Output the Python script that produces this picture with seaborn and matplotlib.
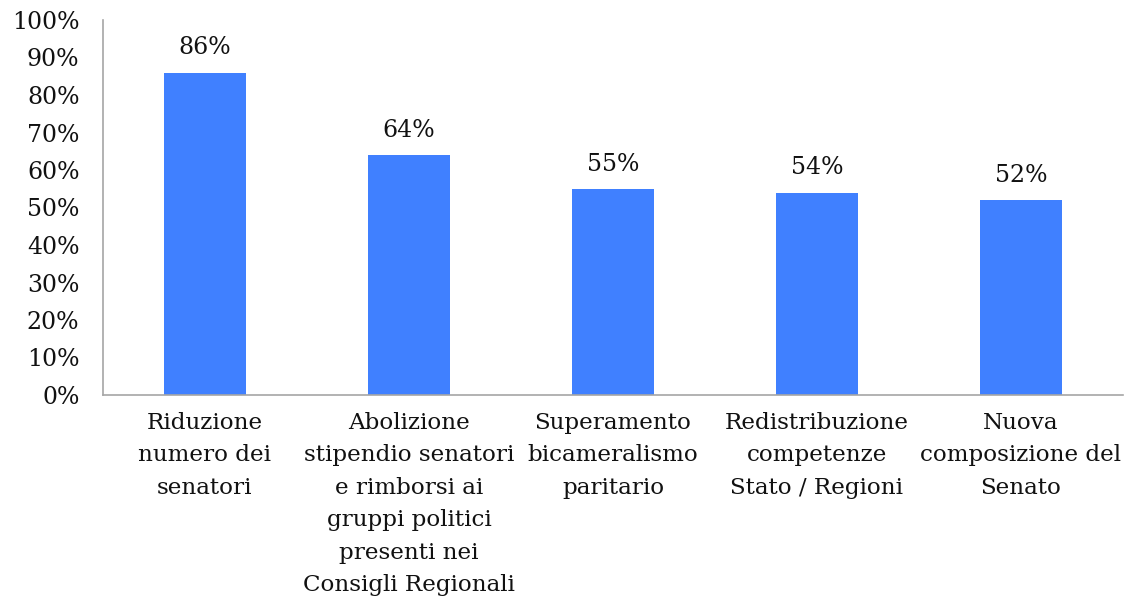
import matplotlib
matplotlib.use("Agg")
import matplotlib.pyplot as plt
import seaborn as sns
import pandas as pd

categories = [
    "Riduzione\nnumero dei\nsenatori",
    "Abolizione\nstipendio senatori\ne rimborsi ai\ngruppi politici\npresenti nei\nConsigli Regionali",
    "Superamento\nbicameralismo\nparitario",
    "Redistribuzione\ncompetenze\nStato / Regioni",
    "Nuova\ncomposizione del\nSenato",
]
values = [0.86, 0.64, 0.55, 0.54, 0.52]
value_labels = ["86%", "64%", "55%", "54%", "52%"]
y_ticks = [i / 10 for i in range(11)]
y_tick_labels = [f"{i * 10}%" for i in range(11)]

sns.set_theme(style="white")
plt.rcParams["font.family"] = ["DejaVu Serif"]

df = pd.DataFrame({"cat": categories, "val": values})

fig = plt.figure(figsize=(11.29, 6.0), dpi=100)
ax = fig.add_axes([103 / 1129, 205 / 600, 1020 / 1129, 375 / 600])

sns.barplot(data=df, x="cat", y="val", color="#4080FF", saturation=1,
            width=0.4, linewidth=0, ax=ax)

for i, (v, lab) in enumerate(zip(values, value_labels)):
    ax.annotate(lab, (i, v), xytext=(0, 9.5), textcoords="offset points",
                ha="center", va="bottom", fontsize=17, color="#111111")

ax.set_xlim(-0.5, 4.5)
ax.set_ylim(0, 1)
ax.set_yticks(y_ticks)
ax.set_yticklabels(y_tick_labels, fontsize=17, color="#111111")
ax.set_xticks(range(len(categories)))
ax.set_xticklabels(categories, fontsize=16.6, color="#111111", linespacing=1.62)
ax.set_xlabel("")
ax.set_ylabel("")
ax.tick_params(axis="both", length=0)
ax.tick_params(axis="x", pad=12)
ax.tick_params(axis="y", pad=17)

for side in ["top", "right"]:
    ax.spines[side].set_visible(False)
for side in ["left", "bottom"]:
    ax.spines[side].set_color("#A6A6A6")
    ax.spines[side].set_linewidth(1.2)
ax.grid(False)

fig.savefig("out.png", dpi=100, facecolor="white")
